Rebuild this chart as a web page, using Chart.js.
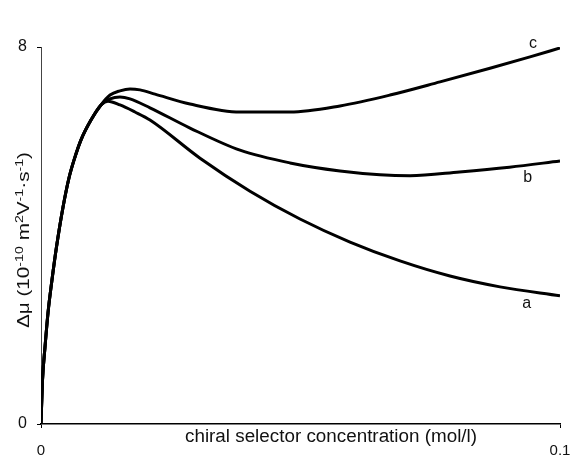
<!DOCTYPE html>
<html>
<head>
<meta charset="utf-8">
<script src="https://cdn.jsdelivr.net/npm/chart.js@4"></script>
<style>
  html, body { margin: 0; padding: 0; background: #fff; }
  #wrap { width: 571px; height: 458px; }
</style>
</head>
<body>
<div id="wrap"><canvas id="chart" width="571" height="458"></canvas></div>
<script>
// chiral selector concentration (mol/l) and mobility difference for curves a, b, c
const concA = [0, 0.00029, 0.00077, 0.00135, 0.00212, 0.00299, 0.00424, 0.00539, 0.00636, 0.00771, 0.00963, 0.01156, 0.01291, 0.01522, 0.01811, 0.0210, 0.03064, 0.04027, 0.0499, 0.05954, 0.06917, 0.0788, 0.08844, 0.1];
const muA   = [0, 0.93, 1.63, 2.36, 3.06, 3.76, 4.60, 5.22, 5.60, 6.03, 6.45, 6.77, 6.85, 6.77, 6.62, 6.45, 5.64, 4.94, 4.35, 3.86, 3.46, 3.14, 2.91, 2.72];

const concB = [0, 0.00029, 0.00077, 0.00135, 0.00212, 0.00299, 0.00424, 0.00539, 0.00636, 0.00771, 0.00963, 0.01156, 0.0133, 0.01522, 0.01715, 0.0210, 0.02871, 0.03834, 0.04798, 0.05761, 0.06532, 0.0711, 0.08064, 0.09027, 0.1];
const muB   = [0, 0.93, 1.63, 2.36, 3.06, 3.76, 4.60, 5.22, 5.60, 6.03, 6.45, 6.77, 6.90, 6.94, 6.90, 6.71, 6.28, 5.81, 5.54, 5.37, 5.29, 5.27, 5.35, 5.45, 5.58];

const concC = [0, 0.00029, 0.00077, 0.00135, 0.00212, 0.00299, 0.00424, 0.00539, 0.00636, 0.00771, 0.00963, 0.01156, 0.0133, 0.01522, 0.01715, 0.01908, 0.02197, 0.02871, 0.03834, 0.04798, 0.05761, 0.06724, 0.07688, 0.08651, 0.09422, 0.1];
const muC   = [0, 0.93, 1.63, 2.36, 3.06, 3.76, 4.60, 5.22, 5.60, 6.03, 6.45, 6.77, 6.98, 7.07, 7.11, 7.09, 7.00, 6.79, 6.62, 6.62, 6.75, 6.98, 7.26, 7.55, 7.79, 7.98];

const curveNames = ['a', 'b', 'c'];
const xTicks = [0, 0.1];
const yTicks = [0, 8];

function toPoints(xs, ys) {
    return xs.map((x, i) => ({ x: x, y: ys[i] }));
}

const series = [toPoints(concA, muA), toPoints(concB, muB), toPoints(concC, muC)];

// curve letters placed next to the line ends (data units)
const labelSpots = [
    { x: 0.0936, y: 2.55 },
    { x: 0.0938, y: 5.22 },
    { x: 0.0948, y: 8.08 }
];

const FONT = '"Liberation Sans", Arial, sans-serif';

// draws text runs (size, raise) centred on 0,0, squeezed/stretched to a given length
function drawRuns(ctx, runs, length) {
    let total = 0;
    const widths = runs.map(r => {
        ctx.font = r[1] + 'px ' + FONT;
        const w = ctx.measureText(r[0]).width;
        total += w;
        return w;
    });
    ctx.save();
    ctx.scale(length / total, 1);
    let x = -total / 2;
    runs.forEach((r, i) => {
        ctx.font = r[1] + 'px ' + FONT;
        ctx.fillText(r[0], x, -r[2]);
        x += widths[i];
    });
    ctx.restore();
}

const textPlugin = {
    id: 'extraText',
    afterDraw(chart) {
        const ctx = chart.ctx;
        const xs = chart.scales.x;
        const ys = chart.scales.y;
        ctx.save();
        ctx.fillStyle = '#111';
        ctx.textBaseline = 'middle';

        // curve letters
        ctx.font = '16px ' + FONT;
        ctx.textAlign = 'center';
        curveNames.forEach((name, i) => {
            ctx.fillText(name, xs.getPixelForValue(labelSpots[i].x), ys.getPixelForValue(labelSpots[i].y));
        });
        ctx.textAlign = 'left';

        // x axis title, sits above the tick labels
        ctx.save();
        ctx.translate(331, 437);
        drawRuns(ctx, [['chiral selector concentration (mol/l)', 18, 0]], 292);
        ctx.restore();

        // y axis title
        ctx.save();
        ctx.translate(25, 240);
        ctx.rotate(-Math.PI / 2);
        drawRuns(ctx, [
            ['\u0394\u03bc (10', 16, 0], ['-10', 11, 5], [' m', 16, 0], ['2', 11, 5],
            ['V', 16, 0], ['-1', 11, 5], ['\u00b7s', 16, 0], ['-1', 11, 5], [')', 16, 0]
        ], 176);
        ctx.restore();
        ctx.restore();
    }
};

const ctx = document.getElementById('chart').getContext('2d');
new Chart(ctx, {
    type: 'line',
    data: {
        datasets: series.map((pts, i) => ({
            label: curveNames[i],
            data: pts,
            borderColor: '#000',
            borderWidth: 3,
            pointRadius: 0,
            fill: false,
            cubicInterpolationMode: 'monotone'
        }))
    },
    options: {
        responsive: false,
        animation: false,
        layout: { padding: { top: 47, right: 11, left: 0, bottom: 0 } },
        plugins: {
            legend: { display: false },
            tooltip: { enabled: false }
        },
        scales: {
            x: {
                type: 'linear',
                min: xTicks[0],
                max: xTicks[1],
                afterFit: (scale) => {
                    scale.height = 34;
                    scale.paddingLeft = 0;
                    scale.paddingRight = 0;
                },
                afterBuildTicks: (scale) => { scale.ticks = xTicks.map(v => ({ value: v })); },
                grid: { drawOnChartArea: false, drawTicks: true, tickLength: 4, color: '#000' },
                border: { display: true, color: '#000', width: 1.5 },
                ticks: {
                    padding: 14,
                    labelOffset: 0,
                    maxRotation: 0,
                    color: '#111',
                    font: { family: FONT, size: 15 },
                    callback: (v) => String(v)
                }
            },
            y: {
                type: 'linear',
                min: yTicks[0],
                max: yTicks[1],
                afterFit: (scale) => {
                    scale.width = 41;
                    scale.paddingTop = 0;
                    scale.paddingBottom = 0;
                },
                afterBuildTicks: (scale) => { scale.ticks = yTicks.map(v => ({ value: v })); },
                grid: { drawOnChartArea: false, drawTicks: true, tickLength: 4, color: '#000' },
                border: { display: true, color: '#444', width: 1 },
                ticks: {
                    padding: 10,
                    color: '#111',
                    font: { family: FONT, size: 16 },
                    callback: (v) => String(v)
                }
            }
        }
    },
    plugins: [textPlugin]
});
</script>
</body>
</html>
